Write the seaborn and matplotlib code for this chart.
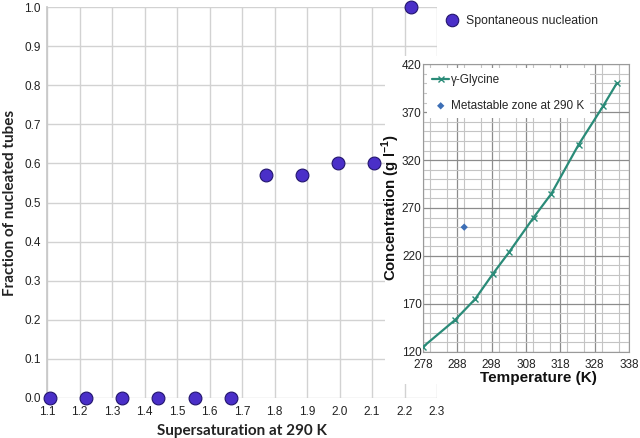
import matplotlib
matplotlib.use("Agg")
import matplotlib.pyplot as plt
import seaborn as sns
import pandas as pd
from matplotlib.patches import Rectangle
from matplotlib.lines import Line2D
from matplotlib.ticker import MultipleLocator

# ---- data ----
supersat = [1.11, 1.22, 1.33, 1.44, 1.555, 1.665, 1.775, 1.885, 1.995, 2.105, 2.22]
fraction = [0.0, 0.0, 0.0, 0.0, 0.0, 0.0, 0.57, 0.57, 0.60, 0.60, 1.0]

temp_k = [278.0, 287.3, 293.2, 298.3, 303.1, 310.2, 315.4, 323.3, 330.4, 334.4]
conc_gl = [125, 153, 175, 201, 224, 260, 285, 336, 376, 400]

meta_temp = [290]
meta_conc = [250]

sns.set_theme(style="white")
plt.rcParams['font.family'] = ['Liberation Sans', 'DejaVu Sans']
plt.rcParams['mathtext.fontset'] = 'custom'
plt.rcParams['mathtext.rm'] = 'Liberation Sans'
plt.rcParams['mathtext.bf'] = 'Liberation Sans:bold'

W, H = 640, 438
fig = plt.figure(figsize=(6.4, 4.38), dpi=100)
fig.patch.set_facecolor('white')

# ---- main axes ----
ax = fig.add_axes([47 / W, 40 / H, 390 / W, 391 / H])
df = pd.DataFrame({'s': supersat, 'f': fraction})
sns.scatterplot(data=df, x='s', y='f', ax=ax, s=85, color='#4a2fc8',
                edgecolor='#23156e', linewidth=0.8, clip_on=False, zorder=5,
                label='Spontaneous nucleation', legend=False)
ax.set_xlim(1.1, 2.3)
ax.set_ylim(0, 1.0)
ax.set_xticks([round(1.1 + 0.1 * i, 1) for i in range(13)])
ax.set_xticklabels([f"{1.1 + 0.1 * i:.1f}" for i in range(13)])
ax.set_yticks([round(0.1 * i, 1) for i in range(11)])
ax.set_yticklabels([f"{0.1 * i:.1f}" for i in range(11)])
ax.grid(True, color='#d2d2d2', linewidth=1.0)
for sp in ['top', 'right', 'bottom']:
    ax.spines[sp].set_visible(False)
ax.spines['left'].set_color('#c8c8c8')
ax.tick_params(axis='both', length=0, labelsize=8.5, colors='#222222')
ax.tick_params(axis='x', pad=6)
ax.tick_params(axis='y', pad=4.5)
ax.set_xlabel('Supersaturation at 290 K', fontsize=11, fontweight='bold',
              family=['Lato', 'DejaVu Sans'], color='#222222', labelpad=4)
ax.set_ylabel('Fraction of nucleated tubes', fontsize=11, fontweight='bold',
              family=['Lato', 'DejaVu Sans'], color='#222222', labelpad=5)

h1 = Line2D([], [], marker='o', linestyle='none', markersize=9,
            markerfacecolor='#4a2fc8', markeredgecolor='#23156e', markeredgewidth=0.8)
fig.legend([h1], ['Spontaneous nucleation'], loc='center left',
           bbox_to_anchor=(440 / W, 1 - 21 / H), frameon=False, fontsize=8.8,
           handletextpad=0.1, borderaxespad=0, borderpad=0)

# ---- white backdrop for inset ----
fig.patches.append(Rectangle((385 / W, 1 - 384 / H), 1 - 385 / W, (384 - 56) / H,
                             transform=fig.transFigure, facecolor='white',
                             edgecolor='none', zorder=1))

# ---- inset axes ----
ax2 = fig.add_axes([423 / W, 1 - 351.7 / H, 206 / W, 287.4 / H], zorder=2)
ax2.set_facecolor('white')
dg = pd.DataFrame({'T': temp_k, 'C': conc_gl})
sns.lineplot(data=dg, x='T', y='C', ax=ax2, color='#2a8b78', linewidth=1.6,
             marker='x', markersize=5, markeredgewidth=1.0,
             markeredgecolor='#2a8b78', label='\u03b3-Glycine', zorder=4)
dm = pd.DataFrame({'T': meta_temp, 'C': meta_conc})
sns.scatterplot(data=dm, x='T', y='C', ax=ax2, marker='D', s=14,
                color='#3d6fb6', edgecolor='none', label='Metastable zone at 290 K',
                zorder=4)
ax2.set_xlim(278, 338)
ax2.set_ylim(120, 420)
ax2.set_xticks(range(278, 339, 10))
ax2.set_yticks(range(120, 421, 50))
ax2.xaxis.set_minor_locator(MultipleLocator(5))
ax2.yaxis.set_minor_locator(MultipleLocator(10))
ax2.grid(True, which='major', color='#8c8c8c', linewidth=0.9)
ax2.grid(True, which='minor', color='#c4c4c4', linewidth=0.8)
ax2.set_axisbelow(True)
for sp in ax2.spines.values():
    sp.set_color('#9a9a9a')
    sp.set_linewidth(0.8)
ax2.tick_params(axis='both', which='both', length=0, labelsize=8.5, colors='#222222')
ax2.tick_params(axis='x', pad=5)
ax2.tick_params(axis='y', pad=1)
ax2.set_xlabel('')
ax2.set_ylabel('')
leg = ax2.legend(loc='upper left', fontsize=8.5, frameon=True, framealpha=1,
                 facecolor='white', edgecolor='none', handlelength=1.4,
                 handletextpad=0.2, labelspacing=1.2, borderaxespad=0.3,
                 borderpad=0.5)
leg.get_frame().set_linewidth(0)

fig.text(538 / W, 1 - 378 / H, 'Temperature (K)', ha='center', va='center',
         fontsize=11, fontweight='bold', color='#111111')
fig.text(391 / W, 1 - 207 / H, r'Concentration (g l$^{\mathbf{-1}}$)', ha='center',
         va='center', rotation=90, fontsize=10.8, fontweight='bold', color='#111111')

fig.savefig('out.png', dpi=100, facecolor='white')
